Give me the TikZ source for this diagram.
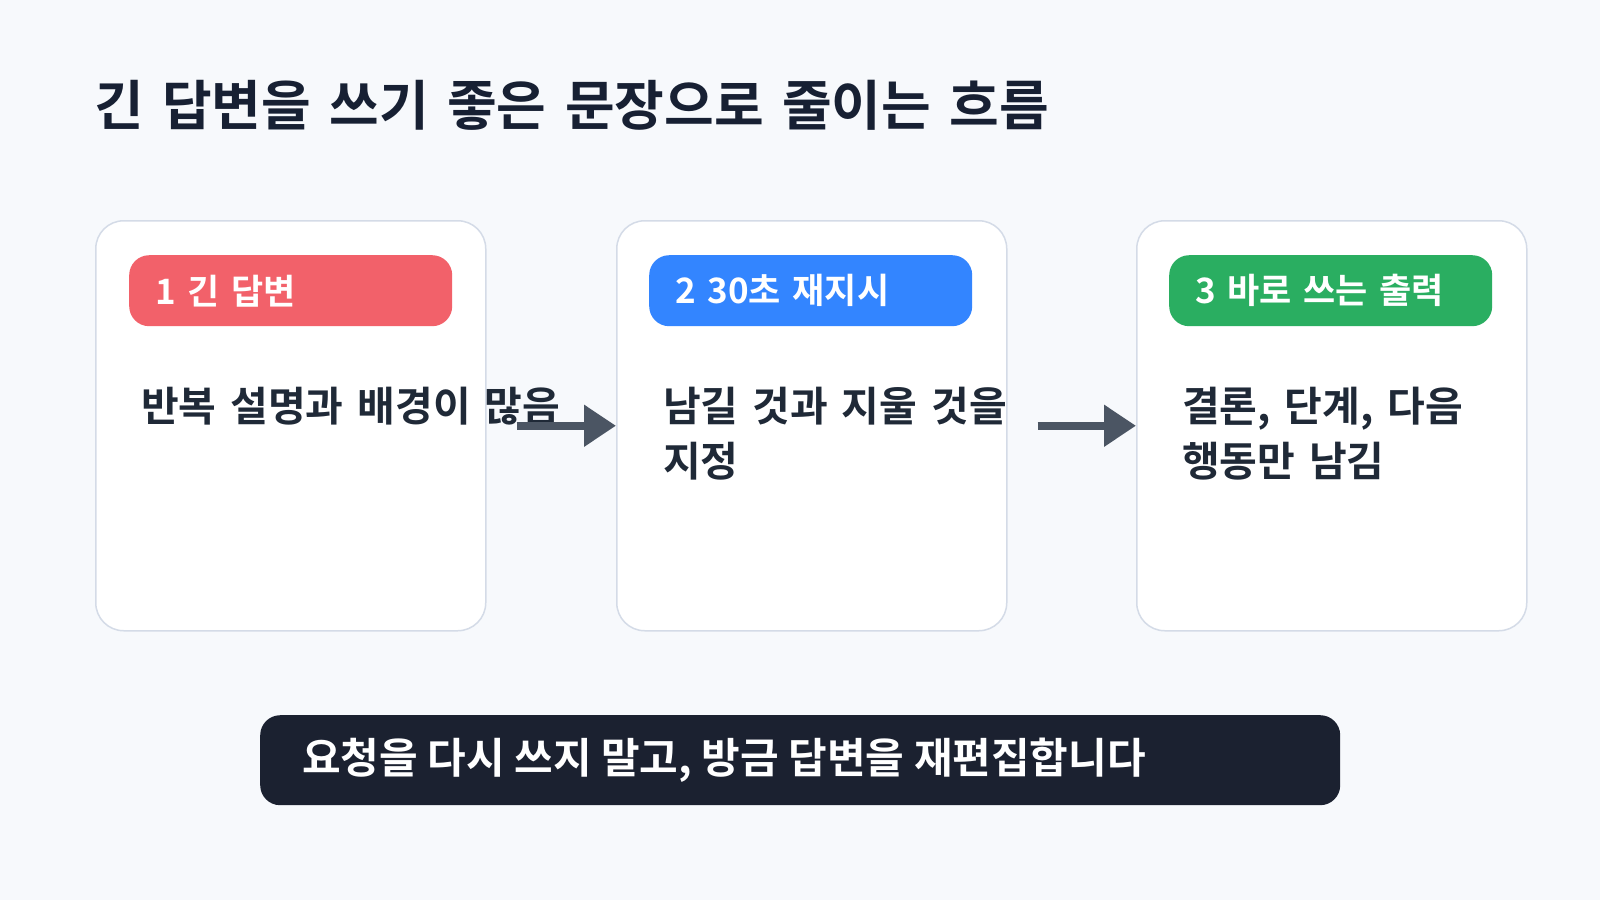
\documentclass[tikz,border=0pt]{standalone}
\usepackage{fontspec}
\setmainfont{Noto Sans CJK KR}[BoldFont={Noto Sans CJK KR Bold}]
\usetikzlibrary{arrows.meta}
\definecolor{pagebg}{HTML}{F7F9FC}
\definecolor{cardline}{HTML}{D4DBE7}
\definecolor{inkdark}{HTML}{172033}
\definecolor{inkbody}{HTML}{1F2937}
\definecolor{arrowgray}{HTML}{4B5563}
\definecolor{barnavy}{HTML}{1B2130}
\definecolor{badgered}{HTML}{F2616A}
\definecolor{badgeblue}{HTML}{3385FF}
\definecolor{badgegreen}{HTML}{2AAE61}
\protected\def\wordgap#1{\spaceskip=#1\relax}
\tikzset{
  card/.style={draw=cardline, line width=1.5pt, fill=white, rounded corners=28pt,
    minimum width=390pt, minimum height=410pt, anchor=north west, inner sep=0pt},
  badge/.style={rounded corners=20pt, minimum height=71pt, text width=271pt,
    inner xsep=26pt, inner ysep=0pt, align=left, anchor=north west, text=white,
    font=\bfseries\fontsize{35}{40}\selectfont\wordgap{0.36em}},
  bodytext/.style={anchor=north west, align=left, inner sep=0pt, text=inkbody,
    font=\bfseries\fontsize{41}{55}\selectfont\wordgap{0.34em}},
  flow/.style={draw=arrowgray, line width=8pt, -{Triangle[length=32pt,width=40pt]}}
}
\begin{document}
\begin{tikzpicture}[x=1pt,y=-1pt]
\fill[pagebg] (0,0) rectangle (1600,900);
\useasboundingbox (0,0) rectangle (1600,900);
\node[anchor=west, inner sep=0pt, text=inkdark, font=\bfseries\fontsize{54}{64}\selectfont\wordgap{0.34em}] (title) at (94,105) {긴 답변을 쓰기 좋은 문장으로 줄이는 흐름};
% three steps
\node[card] (card1) at (95,220) {};
\node[card] (card2) at (616,220) {};
\node[card] (card3) at (1136,220) {};
\node[badge, fill=badgered] (badge1) at (129,255) {1 긴 답변};
\node[badge, fill=badgeblue] (badge2) at (649,255) {2 30초 재지시};
\node[badge, fill=badgegreen] (badge3) at (1169,255) {3 바로 쓰는 출력};
\node[bodytext] (text1) at (141,387) {반복 설명과 배경이 많음};
\node[bodytext] (text2) at (663,387) {남길 것과 지울 것을\\지정};
\node[bodytext] (text3) at (1182,387) {결론, 단계, 다음\\행동만 남김};
\draw[flow] ([xshift=30pt]card1.east) -- (card2.west);
\draw[flow] ([xshift=30pt]card2.east) -- (card3.west);
% bottom note
\node[fill=barnavy, rounded corners=20pt, minimum width=1080pt, minimum height=90pt,
  anchor=north west, inner sep=0pt] (bar) at (260,715) {};
\node[anchor=west, inner sep=0pt, text=white, font=\bfseries\fontsize{42}{48}\selectfont] (note) at (302,760) {요청을 다시 쓰지 말고, 방금 답변을 재편집합니다};
\end{tikzpicture}
\end{document}
